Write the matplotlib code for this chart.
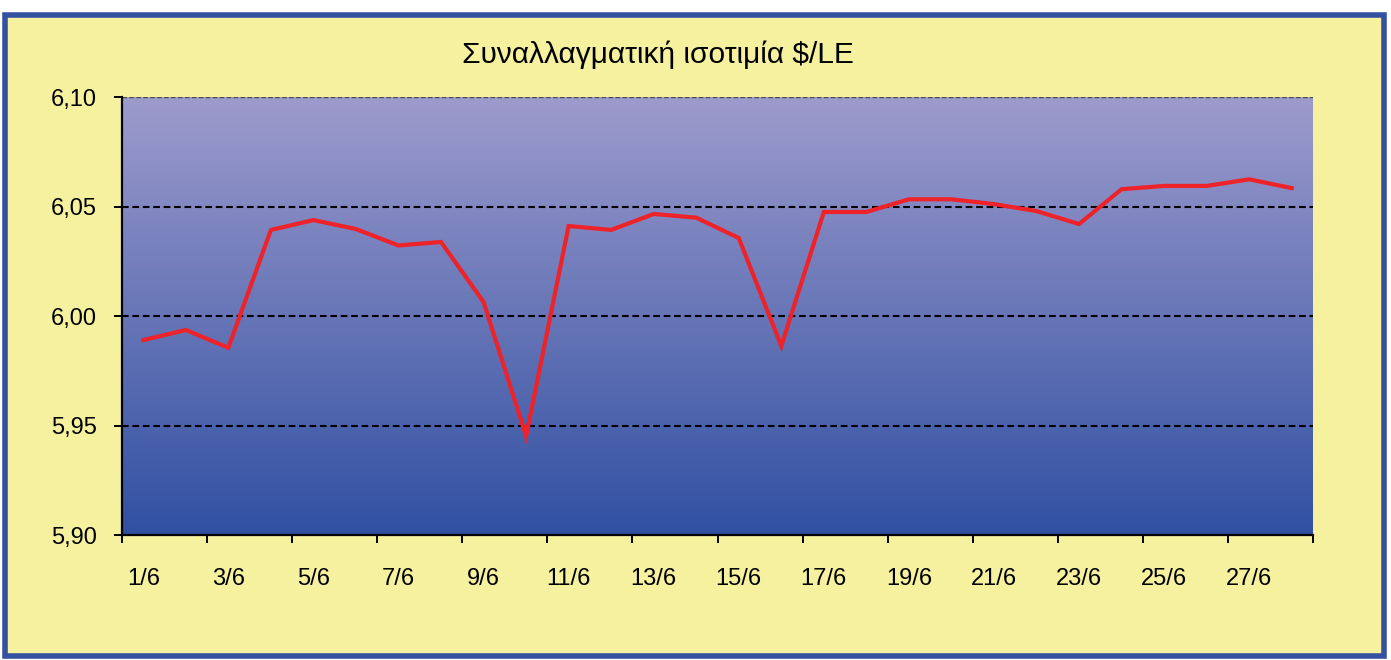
import matplotlib
matplotlib.use('Agg')
import matplotlib.pyplot as plt
from matplotlib.patches import Rectangle
import numpy as np

# daily $/LE rate, June
days = ['%d/6' % d for d in range(1, 29)]
rates = [5.989, 5.9936, 5.9855, 6.0393, 6.0438, 6.0397, 6.0322, 6.0338, 6.0064, 5.9452,
         6.0411, 6.0393, 6.0466, 6.0449, 6.0356, 5.9863, 6.0475, 6.0475, 6.0533, 6.0533,
         6.0511, 6.0479, 6.0420, 6.0579, 6.0594, 6.0594, 6.0624, 6.0584]
yticks = [5.90, 5.95, 6.00, 6.05, 6.10]
title = 'Συναλλαγματική ισοτιμία $/LE'

plt.rcParams['font.family'] = ['Liberation Sans', 'DejaVu Sans']

W, H = 1391, 660
fig = plt.figure(figsize=(W / 100, H / 100), dpi=100, facecolor='white')

# yellow panel with blue frame
fig.patches.append(Rectangle((5 / W, 1 - 656 / H), 1379 / W, 641 / H, transform=fig.transFigure,
                             facecolor='#F5F19F', edgecolor='#3451A1', linewidth=4, zorder=-10))

ax = fig.add_axes([122 / W, 1 - 535 / H, (1313 - 122) / W, (535 - 97) / H])
ax.set_facecolor('none')

x = np.arange(len(days))
ax.set_xlim(-0.5, len(days) - 0.5)
ax.set_ylim(5.90, 6.10)

# background gradient
top = np.array([0.616, 0.608, 0.800])
bot = np.array([0.192, 0.314, 0.635])
t = np.linspace(0, 1, 256)[:, None]
grad = (top * (1 - t) + bot * t)[:, None, :]
ax.imshow(grad, extent=[-0.5, len(days) - 0.5, 5.90, 6.10], aspect='auto', zorder=0, interpolation='bilinear')

for v in yticks[1:-1]:
    ax.axhline(v, color='black', linestyle=(0, (3.2, 1.8)), linewidth=1.5, zorder=1)
ax.axhline(6.10, color='#4a4a40', linestyle=(0, (3.2, 1.8)), linewidth=1.0, zorder=1)

ax.plot(x, rates, color='#EE2229', linewidth=3.0, zorder=3, solid_joinstyle='miter')

for s in ['top', 'right']:
    ax.spines[s].set_visible(False)
for s in ['left', 'bottom']:
    ax.spines[s].set_linewidth(1.6)
    ax.spines[s].set_zorder(4)

ax.set_yticks(yticks)
ax.set_yticklabels([('%.2f' % v).replace('.', ',') for v in yticks])
ax.tick_params(axis='y', direction='out', length=6, width=1.4, pad=12, labelsize=17)

ax.set_xticks(np.arange(-0.5, len(days), 2))
ax.set_xticklabels([])
ax.set_xticks(x[::2], minor=True)
ax.set_xticklabels(days[::2], minor=True)
ax.tick_params(axis='x', which='major', direction='out', length=6, width=1.4)
ax.tick_params(axis='x', which='minor', length=0, pad=24, labelsize=17)

fig.text(658 / W, 1 - 55 / H, title, ha='center', va='center', fontsize=21.5)

fig.savefig('out.png', dpi=100, facecolor=fig.get_facecolor())
